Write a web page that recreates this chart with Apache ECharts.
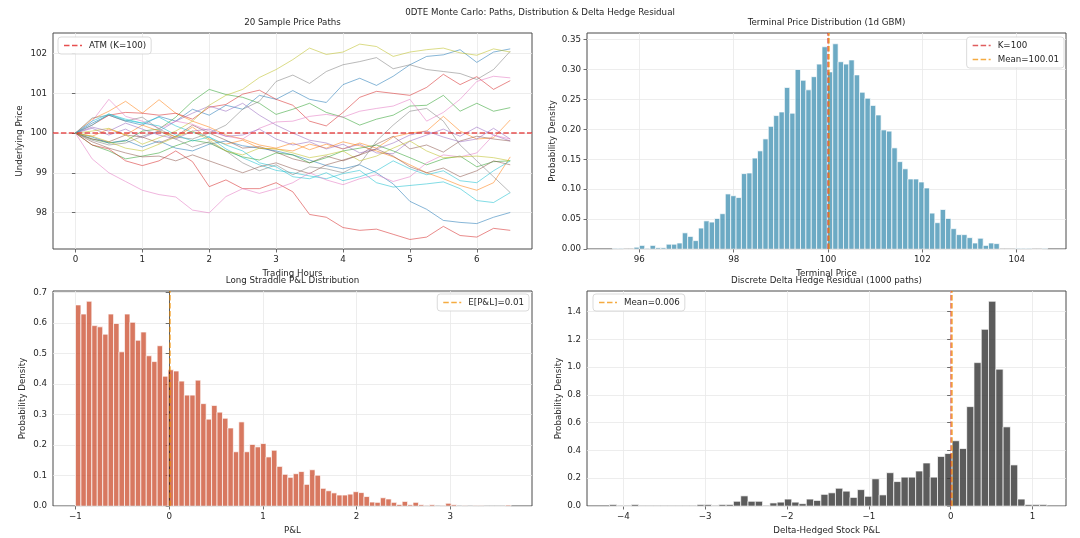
<!DOCTYPE html>
<html><head><meta charset="utf-8">
<script src="https://cdn.jsdelivr.net/npm/echarts@6/dist/echarts.min.js"></script>
<style>html,body{margin:0;padding:0;background:#fff}#c{width:1080px;height:538px}</style>
</head><body><div id="c"></div>
<script>
// ---------- data ----------
const hours = [0,0.25,0.5,0.75,1,1.25,1.5,1.75,2,2.25,2.5,2.75,3,3.25,3.5,3.75,4,4.25,4.5,4.75,5,5.25,5.5,5.75,6,6.25,6.5];
const path01 = [100,100.25,100.45,100.3,100.2,100.42,100.3,100.6,100.45,100.7,100.6,100.95,100.85,101.07,100.85,100.77,101.22,101.38,101.2,101.43,101.72,101.93,101.97,102.1,101.78,102.04,102.12];
const path02 = [100,100.35,100.55,100.8,100.5,100.84,100.5,100.3,100.15,99.95,99.85,99.7,99.62,99.75,99.58,99.72,99.6,99.75,99.62,99.9,100.0,100.05,100.42,100.05,99.85,99.88,100.33];
const path03 = [100,99.85,99.75,99.8,100.05,100.1,100.4,100.8,101.1,100.97,100.9,100.75,100.47,100.6,100.75,100.52,100.4,100.2,100.35,100.45,100.68,100.7,100.95,100.55,100.75,100.55,100.64];
const path04 = [100,100.2,100.45,100.52,100.5,100.45,100.5,100.35,100.65,100.72,100.98,101.08,100.85,100.7,100.3,100.18,100.52,100.9,101.05,101.0,100.95,101.15,101.48,101.22,101.42,101.1,101.32];
const path05 = [100,100.12,99.95,100.1,99.88,100.05,100.3,100.5,100.68,100.55,100.75,100.45,100.2,100.0,99.82,99.75,99.6,99.72,99.5,99.48,99.8,99.95,100.1,99.92,100.15,99.95,99.8];
const path06 = [100,99.85,99.78,99.95,99.9,99.75,99.92,100.2,100.0,99.82,99.62,99.66,99.52,99.35,99.25,99.42,99.3,99.45,99.72,99.92,99.6,99.7,99.52,99.8,99.92,99.85,99.8];
const path07 = [100,100.3,100.85,100.42,100.3,100.12,100.3,100.22,100.05,99.92,99.85,100.12,100.28,100.3,100.42,100.47,100.4,100.55,100.62,100.68,100.85,100.3,100.52,100.85,101.3,101.43,101.39];
const path08 = [100,100.38,100.45,100.3,100.4,100.1,99.9,99.85,100.0,100.2,100.6,100.8,101.3,101.46,101.25,101.55,101.72,101.8,101.9,101.62,101.72,101.6,101.55,101.5,101.35,101.6,102.06];
const path09 = [100,100.05,100.12,99.95,99.72,99.88,100.05,100.3,100.7,100.95,101.1,101.4,101.6,101.85,102.14,101.98,102.04,102.24,102.18,101.93,102.04,102.1,102.14,102.02,101.96,102.12,102.04];
const path10 = [100,100.3,100.48,100.32,100.25,100.4,100.18,100.02,99.9,99.6,99.38,99.2,99.06,99.0,98.92,98.85,98.98,99.06,98.75,98.64,98.68,98.72,98.77,98.6,98.3,98.25,98.5];
const path11 = [100,99.9,99.75,99.82,99.65,99.8,99.62,99.55,99.72,99.8,99.68,99.62,99.55,99.45,99.32,99.18,99.1,99.2,99.0,98.72,98.28,98.08,97.8,97.75,97.72,97.88,98.0];
const path12 = [100,99.92,100.1,99.95,100.2,100.05,99.9,100.15,99.85,99.72,99.82,99.62,99.6,99.55,99.72,99.62,99.78,99.68,99.55,99.4,99.2,99.0,98.85,98.68,98.56,98.75,99.4];
const path13 = [100,99.7,99.55,99.35,99.42,99.5,99.68,99.82,99.75,99.55,99.4,99.32,99.5,99.45,99.25,99.38,99.55,99.62,99.7,99.55,99.38,99.2,99.35,99.42,99.15,99.28,99.3];
const path14 = [100,99.7,99.6,99.3,99.18,99.3,99.55,99.28,98.65,98.82,98.6,98.6,98.75,98.52,97.95,97.88,97.62,97.55,97.58,97.45,97.32,97.38,97.65,97.42,97.38,97.6,97.55];
const path15 = [100,100.15,100.05,100.25,100.1,99.95,99.85,100.05,100.1,99.92,99.95,100.1,99.85,99.7,99.78,99.6,99.72,99.5,99.6,99.75,99.95,100.05,99.9,99.78,99.85,100.12,99.85];
const path16 = [100,99.78,99.62,99.5,99.4,99.42,99.3,99.45,99.3,99.15,99.0,99.15,99.25,99.1,98.98,99.2,99.32,99.45,99.6,99.42,99.15,99.0,99.12,98.9,99.05,99.3,99.2];
const path17 = [100,99.35,99.0,98.78,98.56,98.45,98.39,98.06,97.99,98.4,98.6,98.48,98.6,98.75,99.0,98.82,98.7,98.85,98.95,98.78,98.9,99.25,99.45,99.4,99.5,99.95,99.85];
const path18 = [100,99.82,99.7,99.75,99.92,100.05,99.85,99.65,99.78,99.55,99.25,99.05,99.2,98.95,99.15,99.1,99.0,99.22,99.8,100.2,100.55,100.62,100.3,99.7,99.3,98.9,98.5];
const path19 = [100,99.92,99.78,99.62,99.55,99.72,99.9,100.05,99.82,99.55,99.45,99.62,99.6,99.5,99.38,99.45,99.55,99.3,99.42,99.62,99.8,99.55,99.38,99.4,99.42,99.38,99.3];
const path20 = [100,100.2,100.48,100.35,100.25,100.18,99.95,99.8,99.9,99.7,99.55,99.25,99.15,98.9,98.85,99.0,98.8,98.9,99.05,99.3,99.1,98.95,99.05,98.8,98.75,99.05,99.3];

const strike = 100;
const terminalMean = 100.01;
const straddleMean = 0.01;
const hedgeMean = 0.006;

const priceBinStart = 95.43, priceBinWidth = 0.1139;
const priceDensity = [0.001,0.001,0,0,0.003,0.006,0.001,0.006,0.002,0.002,0.008,0.008,0.010,0.027,0.021,0.014,0.035,0.047,0.045,0.051,0.059,
  0.092,0.089,0.086,0.126,0.127,0.152,0.164,0.184,0.205,0.223,0.229,0.270,0.227,0.300,0.282,0.266,0.288,0.309,0.338,0.296,
  0.343,0.313,0.309,0.316,0.291,0.262,0.252,0.240,0.224,0.199,0.197,0.169,0.146,0.134,0.117,0.117,0.112,0.102,0.060,0.044,
  0.066,0.051,0.034,0.024,0.024,0.019,0.010,0.018,0.006,0.010,0.009,0,0,0,0.001,0.001,0.001,0,0,0.001];

const pnlBinStart = -1.0, pnlBinWidth = 0.0581;
const pnlDensity = [0.660,0.630,0.672,0.592,0.588,0.564,0.630,0.599,0.506,0.630,0.603,0.544,0.571,0.493,0.474,0.526,0.426,0.447,0.443,0.410,
  0.364,0.364,0.413,0.336,0.285,0.330,0.308,0.288,0.256,0.178,0.276,0.178,0.202,0.194,0.205,0.161,0.183,0.130,
  0.104,0.094,0.106,0.113,0.071,0.119,0.101,0.058,0.050,0.043,0.036,0.036,0.039,0.047,0.044,0.031,0.013,0.012,0.027,0.023,0.012,0.005,
  0.015,0.004,0.012,0.004,0.001,0.004,0,0.001,0.009,0.004,0,0.001,0,0.001,0.001,0,0,0,0,0.003];

const hedgeBinStart = -4.17, hedgeBinWidth = 0.0891;
const hedgeDensity = [0.011,0,0,0.011,0,0,0,0,0,0,0,0,0.011,0.011,0,0.011,0.011,0.034,0.073,0.034,0.034,0,0.022,0.028,0.05,0.028,0.017,0.05,0.04,0.084,
  0.095,0.128,0.107,0.062,0.118,0.07,0.196,0.08,0.24,0.176,0.208,0.208,0.252,0.31,0.208,0.357,0.378,0.47,0.414,0.716,1.033,1.273,1.475,0.986,0.57,0.296,0.05,0.011,0.011,0.011];

const hourTicks = [0,1,2,3,4,5,6];
const priceTicks = [98,99,100,101,102];
const terminalTicks = [96,98,100,102,104];
const priceDensityTicks = [0,0.05,0.1,0.15,0.2,0.25,0.3,0.35];
const pnlTicks = [-1,0,1,2,3];
const pnlDensityTicks = [0,0.1,0.2,0.3,0.4,0.5,0.6,0.7];
const hedgeTicks = [-4,-3,-2,-1,0,1];
const hedgeDensityTicks = [0,0.2,0.4,0.6,0.8,1.0,1.2,1.4];

// ---------- styling ----------
const FONT = 'DejaVu Sans';
const TXT = '#262626';
const FS = 8.7;
const tab10 = ['#1f77b4','#ff7f0e','#2ca02c','#d62728','#9467bd','#8c564b','#e377c2','#7f7f7f','#bcbd22','#17becf'];
const paths = [path01,path02,path03,path04,path05,path06,path07,path08,path09,path10,path11,path12,path13,path14,path15,path16,path17,path18,path19,path20];

const grids = [
  {left:53, top:33, width:479, height:216},
  {left:587, top:33, width:479, height:216},
  {left:53, top:291, width:479, height:215},
  {left:587, top:291, width:479, height:215}
].map(g => Object.assign({show:true, borderColor:'#4a4a4a', borderWidth:1, backgroundColor:'#fff'}, g));

const minus = v => (v < 0 ? '\u2212' + (-v) : String(v));
function axis(kind, gi, min, max, ticks, fmt, name, gap) {
  return {
    type:'value', gridIndex:gi, min, max, name, nameLocation:'middle', nameGap:gap,
    nameTextStyle:{fontFamily:FONT, fontSize:FS, color:TXT},
    axisLine:{show:false},
    axisTick:{show:true, inside:false, length:3.5, customValues:ticks, lineStyle:{color:'#4a4a4a', width:0.8}},
    axisLabel:{customValues:ticks, formatter:fmt, fontFamily:FONT, fontSize:FS, color:TXT, margin:6},
    splitLine:{show:true, lineStyle:{color:'#e8e8e8', width:0.8}}
  };
}

function hist(name, gi, start, width, dens, color) {
  return {
    type:'custom', name, xAxisIndex:gi, yAxisIndex:gi, silent:true, z:2,
    data: dens.map((d, i) => [start + i*width, start + (i+1)*width, d]),
    encode:{x:[0,1], y:2},
    renderItem(params, api) {
      const a = api.coord([api.value(0), api.value(2)]);
      const b = api.coord([api.value(1), 0]);
      return {type:'rect', shape:{x:a[0], y:a[1], width:b[0]-a[0], height:b[1]-a[1]},
        style:{fill:color, stroke:'#ffffff', lineWidth:0.7}};
    }
  };
}

function refLine(name, gi, axisKey, value, color, width, dash, z) {
  return {
    type:'line', name, xAxisIndex:gi, yAxisIndex:gi, data:[], symbol:'none', z:z||5,
    lineStyle:{color, width, type:dash}, itemStyle:{color},
    markLine:{silent:true, symbol:'none', label:{show:false}, animation:false,
      lineStyle:{color, width, type:dash}, data:[{[axisKey]: value}]}
  };
}

const series = [];
paths.forEach((p, k) => {
  series.push({
    type:'line', name:'path' + (k+1), xAxisIndex:0, yAxisIndex:0, symbol:'none', silent:true, z:2,
    lineStyle:{color:tab10[k % 10], width:0.9, opacity:0.6},
    data: hours.map((h, i) => [h, p[i]])
  });
});
const DASH = [5.5, 2.4];
const RED = 'rgba(225,35,35,0.8)';
const KRED = 'rgba(214,39,40,0.75)';
const ORANGE = 'rgba(241,143,1,0.75)';
series.push(refLine('ATM (K=100)', 0, 'yAxis', strike, RED, 1.5, DASH));

series.push(hist('terminal', 1, priceBinStart, priceBinWidth, priceDensity, 'rgba(46,134,171,0.7)'));
series.push(refLine('K=100', 1, 'xAxis', strike, KRED, 1.5, DASH));
series.push(refLine('Mean=100.01', 1, 'xAxis', terminalMean, ORANGE, 1.5, DASH, 6));

series.push(hist('pnl', 2, pnlBinStart, pnlBinWidth, pnlDensity, 'rgba(199,62,29,0.7)'));
series.push(refLine('zero', 2, 'xAxis', 0, 'rgba(0,0,0,0.6)', 1, 'solid'));
series.push(refLine('E[P&L]=0.01', 2, 'xAxis', straddleMean, ORANGE, 1.5, DASH, 6));

series.push(hist('hedge', 3, hedgeBinStart, hedgeBinWidth, hedgeDensity, 'rgba(51,51,51,0.8)'));
series.push(refLine('zero2', 3, 'xAxis', 0, 'rgba(214,39,40,0.6)', 1.5, DASH));
series.push(refLine('Mean=0.006', 3, 'xAxis', hedgeMean, ORANGE, 1.5, DASH, 6));

// dashed legend handle drawn as three short bars
const DASH_ICON = 'path://M0,0h5.5v1.5h-5.5z M8,0h5.5v1.5h-5.5z M16,0h2v1.5h-2z';
const legendBase = {
  selectedMode:false, backgroundColor:'rgba(255,255,255,0.85)', borderColor:'#d2d2d2', borderWidth:0.8, borderRadius:3,
  padding:[4,5,4,6], itemWidth:18, itemHeight:1.5, itemGap:5,
  textStyle:{fontFamily:FONT, fontSize:FS, color:TXT, padding:[0,0,0,2]}
};
const item = (name, color) => ({name, icon:DASH_ICON, itemStyle:{color}});
const legends = [
  Object.assign({}, legendBase, {data:[item('ATM (K=100)', RED)], left:58, top:37}),
  Object.assign({}, legendBase, {data:[item('K=100', KRED), item('Mean=100.01', ORANGE)], orient:'vertical', right:16, top:37}),
  Object.assign({}, legendBase, {data:[item('E[P&L]=0.01', ORANGE)], right:551, top:294}),
  Object.assign({}, legendBase, {data:[item('Mean=0.006', ORANGE)], left:593, top:294})
];

const tStyle = {fontFamily:FONT, fontSize:FS, fontWeight:'normal', color:TXT, lineHeight:10};
const titles = [
  {text:'0DTE Monte Carlo: Paths, Distribution & Delta Hedge Residual', left:540, top:8},
  {text:'20 Sample Price Paths', left:292.5, top:18},
  {text:'Terminal Price Distribution (1d GBM)', left:826.5, top:18},
  {text:'Long Straddle P&L Distribution', left:292.5, top:276},
  {text:'Discrete Delta Hedge Residual (1000 paths)', left:826.5, top:276}
].map(t => Object.assign({textAlign:'center', padding:0, textStyle:tStyle}, t));

const option = {
  animation:false, backgroundColor:'#fff',
  title: titles,
  legend: legends,
  grid: grids,
  xAxis: [
    axis('x',0,-0.335,6.825,hourTicks,minus,'Trading Hours',20),
    axis('x',1,94.89,105.045,terminalTicks,minus,'Terminal Price',20),
    axis('x',2,-1.24,3.872,pnlTicks,minus,'P&L',20),
    axis('x',3,-4.445,1.41,hedgeTicks,minus,'Delta-Hedged Stock P&L',20)
  ],
  yAxis: [
    axis('y',0,97.08,102.52,priceTicks,v=>String(v),'Underlying Price',29),
    axis('y',1,0,0.361,priceDensityTicks,v=>v.toFixed(2),'Probability Density',30),
    axis('y',2,0,0.7056,pnlDensityTicks,v=>v.toFixed(1),'Probability Density',26),
    axis('y',3,0,1.549,hedgeDensityTicks,v=>v.toFixed(1),'Probability Density',24)
  ],
  series
};
const chart = echarts.init(document.getElementById('c'), null, {renderer:'canvas'});
chart.setOption(option);
</script></body></html>
